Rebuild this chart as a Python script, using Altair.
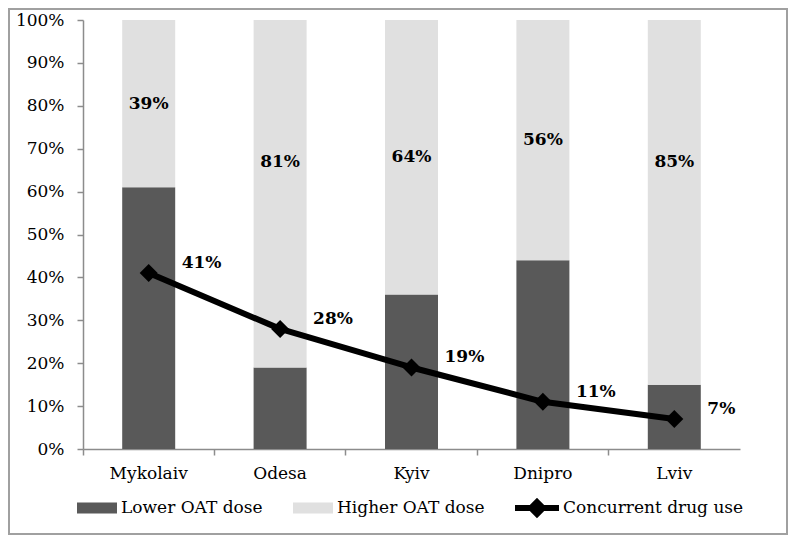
import altair as alt
import pandas as pd

cities = ["Mykolaiv", "Odesa", "Kyiv", "Dnipro", "Lviv"]
lower_dose = [61, 19, 36, 44, 15]
higher_dose = [39, 81, 64, 56, 85]
concurrent_use = [41, 28, 19, 11, 7]
series_names = ["Lower OAT dose", "Higher OAT dose"]
line_name = "Concurrent drug use"
y_ticks = [0, 10, 20, 30, 40, 50, 60, 70, 80, 90, 100]

FONT = "DejaVu Serif"
FS = 17
AX = "#8c8c8c"

wide = pd.DataFrame({
    "city": cities,
    "lower": [v / 100 for v in lower_dose],
    "higher": [v / 100 for v in higher_dose],
    "drug": [v / 100 for v in concurrent_use],
    "line": [line_name] * len(cities),
})
rows = []
for c, lo, hi in zip(cities, lower_dose, higher_dose):
    rows.append({"city": c, "series": series_names[0], "value": lo / 100, "k": 0})
    rows.append({"city": c, "series": series_names[1], "value": hi / 100, "k": 1})
long = pd.DataFrame(rows)

x_enc = alt.X(
    "city:N", sort=cities, title=None,
    scale=alt.Scale(paddingInner=0, paddingOuter=0),
    axis=alt.Axis(labelAngle=0, bandPosition=0, tickSize=6, labelPadding=10,
                  labelFont=FONT, labelFontSize=FS, labelColor="black",
                  domainColor=AX, tickColor=AX, domainWidth=1.5, tickWidth=1.5),
)

y_axis = alt.Axis(format=".0%", values=[v / 100 for v in y_ticks], grid=False,
                  tickSize=6, labelPadding=13, labelFont=FONT, labelFontSize=FS,
                  labelColor="black", domainColor=AX, tickColor=AX,
                  domainWidth=1.5, tickWidth=1.5)
y_scale = alt.Scale(domain=[0, 1], nice=False)


def y_enc(field, **kw):
    return alt.Y(field, title=None, scale=y_scale, axis=y_axis, **kw)


bars = alt.Chart(long).mark_bar(size=53).encode(
    x=x_enc,
    y=y_enc("value:Q", stack="zero"),
    fill=alt.Fill("series:N",
                  scale=alt.Scale(domain=series_names, range=["#595959", "#e0e0e0"]),
                  legend=alt.Legend(title=None, orient="none", legendX=-6, legendY=468,
                                    direction="horizontal", padding=0,
                                    symbolType="M-1,-0.275L1,-0.275L1,0.275L-1,0.275Z",
                                    symbolSize=1600, symbolStrokeWidth=0, symbolOpacity=1,
                                    labelFont=FONT, labelFontSize=FS, labelColor="black",
                                    labelOffset=4, columnPadding=30, labelLimit=300)),
    order=alt.Order("k:Q"),
)

bar_labels = alt.Chart(wide).transform_calculate(
    ly="max(datum.lower + datum.higher / 2, 0.67)"
).mark_text(font=FONT, fontSize=FS, fontWeight="bold", color="black",
            baseline="middle").encode(
    x=x_enc, y=y_enc("ly:Q"), text=alt.Text("higher:Q", format=".0%"),
)

line = alt.Chart(wide).mark_line(strokeWidth=6, strokeJoin="round").encode(
    x=x_enc, y=y_enc("drug:Q"),
    stroke=alt.Stroke("line:N", scale=alt.Scale(domain=[line_name], range=["black"]),
                      legend=alt.Legend(title=None, orient="none", legendX=429, legendY=463,
                                        padding=0,
                                        symbolType="M-1,0L1,0M0,-0.27L0.27,0L0,0.27L-0.27,0Z",
                                        symbolSize=1936, symbolStrokeWidth=6,
                                        symbolFillColor="black",
                                        labelFont=FONT, labelFontSize=FS, labelColor="black",
                                        labelOffset=1, labelLimit=300)),
)

points = alt.Chart(wide).mark_point(shape="diamond", filled=True, size=324,
                                    color="black", opacity=1).encode(
    x=x_enc, y=y_enc("drug:Q"),
)

line_labels = alt.Chart(wide).mark_text(font=FONT, fontSize=FS, fontWeight="bold",
                                        color="black", align="left", baseline="middle",
                                        dx=33, dy=-10).encode(
    x=x_enc, y=y_enc("drug:Q"), text=alt.Text("drug:Q", format=".0%"),
)

frame = alt.Chart(alt.Data(values=[{}])).mark_rect(
    filled=False, stroke="#a0a0a0", strokeWidth=2, clip=False
).encode(x=alt.value(-74), x2=alt.value(704), y=alt.value(-11), y2=alt.value(514))

chart = alt.layer(bars, bar_labels, line, points, line_labels, frame).properties(
    width=657, height=429,
    autosize=alt.AutoSizeParams(type="none"),
    padding={"left": 75, "top": 12, "right": 48, "bottom": 86},
).configure_view(stroke=None)

chart.save("out.html", embed_options={"renderer": "svg", "actions": False})
